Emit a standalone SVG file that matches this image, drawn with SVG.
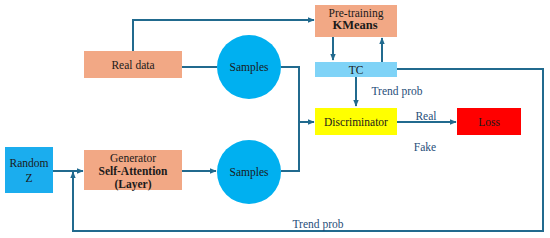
<svg xmlns="http://www.w3.org/2000/svg" width="550" height="238" viewBox="0 0 550 238" font-family="Liberation Serif, Times New Roman, serif">
<style>
text{font-family:'Liberation Serif','Times New Roman',serif;fill:#1a1a1a;text-anchor:middle;font-size:11.5px}
.lbl{fill:#1F4E79}
.b{font-weight:bold}
.c{stroke:#216A8E;stroke-width:2;fill:none}
.orange{fill:#F2A885}
.circ{fill:#00B0F0}
</style>
<defs>
<marker id="a" viewBox="0 0 10 10" refX="9" refY="5" markerWidth="7" markerHeight="7" orient="auto" markerUnits="userSpaceOnUse">
<path d="M0,1 L10,5 L0,9 z" fill="#216A8E"/>
</marker>
</defs>
<g id="connectors">
<path class="c" d="M133,51 V20 H314" marker-end="url(#a)"/>
<path class="c" d="M182,67 H217"/>
<path class="c" d="M333,37 V60" marker-end="url(#a)"/>
<path class="c" d="M382,62 V38" marker-end="url(#a)"/>
<path class="c" d="M356,77 V106" marker-end="url(#a)"/>
<path class="c" d="M281,67 H299 V122 H314" marker-end="url(#a)"/>
<path class="c" d="M281,171 H299 V122"/>
<path class="c" d="M397,122 H456" marker-end="url(#a)"/>
<path class="c" d="M397,69 H543 V231 H73 V172" marker-end="url(#a)"/>
<path class="c" d="M53,171 H83" marker-end="url(#a)"/>
<path class="c" d="M182,171 H216" marker-end="url(#a)"/>
</g>
<g id="real-data">
<rect class="orange" x="84" y="51" width="98" height="27"/>
<text x="133" y="69">Real data</text>
</g>
<g id="samples-top">
<circle class="circ" cx="249" cy="67" r="32"/>
<text x="249" y="71">Samples</text>
</g>
<g id="pretraining">
<rect class="orange" x="315" y="5" width="82" height="32"/>
<text x="356" y="17">Pre-training</text>
<text class="b" x="355" y="29" style="font-size:12.5px">KMeans</text>
</g>
<g id="tc">
<rect fill="#7FD3F7" x="315" y="62" width="82" height="15"/>
<text x="356" y="74">TC</text>
</g>
<text class="lbl" x="397" y="95">Trend prob</text>
<g id="discriminator">
<rect fill="#FFFF00" x="315" y="108" width="82" height="27"/>
<text x="356" y="126">Discriminator</text>
</g>
<g id="loss">
<rect fill="#FF0000" x="457" y="108" width="64" height="27"/>
<text x="489" y="126">Loss</text>
</g>
<text class="lbl" x="426" y="120">Real</text>
<text class="lbl" x="425" y="151">Fake</text>
<g id="random-z">
<rect fill="#1BADEE" x="5" y="147" width="48" height="46"/>
<text x="29" y="167">Random</text>
<text x="29" y="182">Z</text>
</g>
<g id="generator">
<rect class="orange" x="84" y="150" width="98" height="40"/>
<text x="133" y="162">Generator</text>
<text class="b" x="133" y="175">Self-Attention</text>
<text class="b" x="133" y="188">(Layer)</text>
</g>
<g id="samples-bottom">
<circle class="circ" cx="249" cy="172" r="32"/>
<text x="249" y="176">Samples</text>
</g>
<text class="lbl" x="318" y="228">Trend prob</text>
</svg>
